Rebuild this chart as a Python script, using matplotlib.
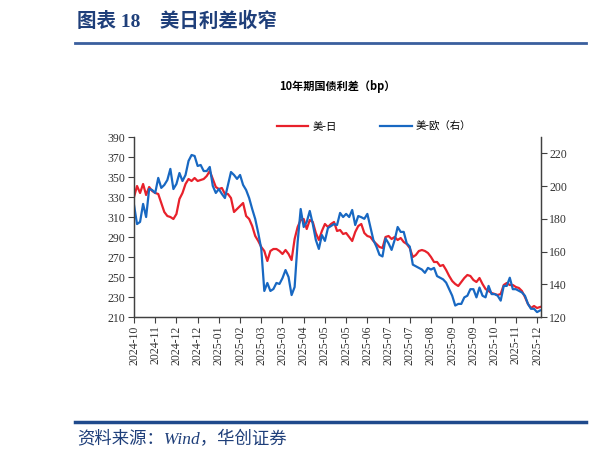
import matplotlib
matplotlib.use("Agg")
import matplotlib.pyplot as plt
from matplotlib.lines import Line2D

# 10-year yield spreads (bp), one point per ~2 trading days
us_jp = [330, 341, 334, 343, 332, 340, 336, 334, 333, 324,
         315, 311, 310, 308, 313, 328, 334, 343, 348, 346,
         349, 346, 347, 348, 351, 356, 348, 340, 338, 339,
         333, 333, 329, 315, 318, 321, 324, 311, 308, 301,
         291, 286, 280, 276, 266, 276, 278, 278, 276, 273,
         277, 273, 267, 288, 300, 307, 308, 298, 307, 305,
         294, 287, 296, 303, 300, 303, 305, 296, 297, 293,
         294, 290, 286, 295, 301, 303, 294, 291, 290, 286,
         283, 280, 279, 290, 291, 288, 290, 287, 289, 285,
         283, 279, 270, 272, 276, 277, 276, 274, 270, 265,
         265, 261, 262, 257, 251, 246, 243, 241, 245, 249,
         252, 251, 247, 245, 249, 243, 238, 236, 234, 233,
         232, 233, 242, 244, 242, 242, 240, 239, 236, 230,
         223, 219, 221, 219, 220]

us_eu = [188.5, 176.8, 178.1, 189.1, 181.1, 198.2, 197.6, 195.8, 205.0, 198.9,
         200.7, 203.7, 210.5, 198.2, 201.3, 208.0, 203.1, 206.8, 215.4, 219.0,
         218.4, 212.3, 212.9, 209.2, 209.2, 211.7, 200.1, 195.8, 198.2, 195.2,
         192.7, 200.7, 208.6, 206.8, 204.4, 206.8, 200.7, 197.6, 192.7, 186.0,
         179.9, 171.3, 161.6, 135.9, 140.8, 135.9, 137.1, 140.8, 140.2, 143.8,
         148.7, 144.4, 133.4, 138.3, 165.8, 186.0, 175.0, 178.1, 184.8, 176.8,
         167.1, 161.6, 170.1, 166.5, 174.4, 175.6, 176.8, 176.2, 183.6, 181.1,
         183.0, 181.1, 185.4, 176.2, 181.7, 181, 180, 183, 175, 167,
         163, 158, 157, 168, 165, 161, 167, 175, 172, 172,
         165, 163, 152, 151, 150, 149, 147, 150, 149, 150,
         145, 144, 143, 141, 137, 133, 127, 128, 128, 132,
         133, 137, 137, 132, 138, 133, 132, 139, 134, 134,
         133, 130, 139, 139, 144, 137, 137, 136, 135, 133,
         128, 125, 125, 123, 124]

tick_labels = ["2024-10", "2024-11", "2024-12", "2024-12", "2025-01",
               "2025-02", "2025-03", "2025-03", "2025-04", "2025-05",
               "2025-05", "2025-06", "2025-07", "2025-07", "2025-08",
               "2025-09", "2025-09", "2025-10", "2025-11", "2025-12"]

cjk = ["Noto Sans CJK SC", "DejaVu Sans"]
serif_cjk = ["Liberation Serif", "Noto Sans CJK SC"]
navy = "#1F3F7A"
red = "#E8212B"
blue = "#1868C2"

W, H = 591, 461
fig = plt.figure(figsize=(W / 100, H / 100), dpi=100)

# header and footer
fig.text(77 / W, 1 - 21 / H, "图表 18    美日利差收窄", family=serif_cjk,
         fontsize=14, fontweight="bold", color=navy, va="center", ha="left")
fig.add_artist(Line2D([75 / W, 586 / W], [1 - 43 / H] * 2, color="#3A5F9E", lw=2))
fig.add_artist(Line2D([75 / W, 586 / W], [1 - 422 / H] * 2, color="#1F4A8C", lw=2.5))
fig.text(77 / W, 1 - 440 / H, "资料来源：Wind，华创证券", family=serif_cjk,
         style="italic", fontsize=12.5, color=navy, va="center", ha="left")

ax = fig.add_axes([134 / W, 1 - 317 / H, (541 - 134) / W, (317 - 137) / H])
x = list(range(len(us_jp)))
ln1, = ax.plot(x, us_jp, color=red, lw=1.6)
ax.set_ylim(210, 390)
ax.set_yticks(range(210, 391, 20))
ax.set_xlim(0, 134.3)
ax.set_xticks(range(0, 7 * len(tick_labels), 7))
ax.set_xticklabels(tick_labels, rotation=90, ha="center", va="top")

ax2 = ax.twinx()
ln2, = ax2.plot(x, us_eu, color=blue, lw=1.6)
ax2.set_ylim(120, 230)
ax2.set_yticks(range(120, 221, 20))

for a in (ax, ax2):
    a.spines["top"].set_visible(False)
    for s in ("left", "right", "bottom"):
        a.spines[s].set_color("#404040")
        a.spines[s].set_linewidth(0.9)
    a.tick_params(direction="out", length=4, width=0.8, color="#404040",
                  labelsize=8.5, labelcolor="#333333", pad=2)
    for lab in a.get_xticklabels() + a.get_yticklabels():
        lab.set_family("Liberation Serif")

ax.set_title("10年期国债利差（bp）", family=cjk, fontsize=8, fontweight="bold",
             pad=34, x=0.5)
fig.legend([ln1, ln2], ["美-日", "美-欧（右）"], loc="center",
           bbox_to_anchor=(374 / W, 1 - 127 / H), ncol=2, frameon=False,
           prop={"family": cjk, "size": 7.5}, handlelength=3.0,
           columnspacing=4.2, handletextpad=0.4)

fig.savefig("out.png", dpi=100)
